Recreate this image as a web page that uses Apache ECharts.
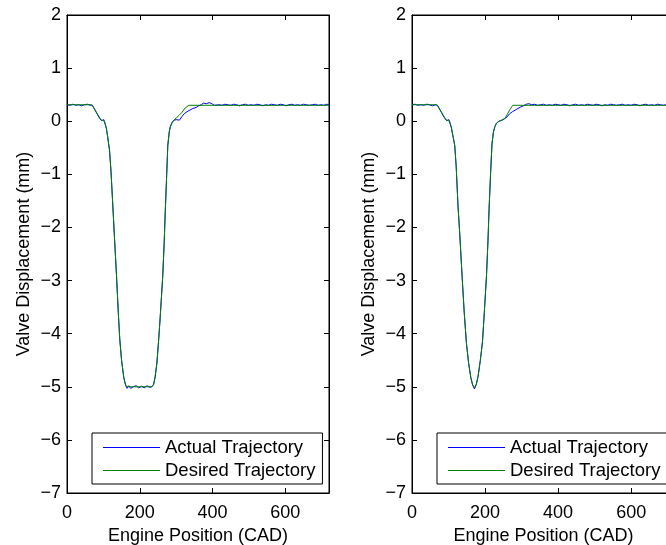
<!DOCTYPE html>
<html>
<head>
<meta charset="utf-8">
<script src="https://cdn.jsdelivr.net/npm/echarts@6/dist/echarts.min.js"></script>
<style>
html,body{margin:0;padding:0;background:#fff;}
#main{width:666px;height:545px;}
</style>
</head>
<body>
<div id="main"></div>
<script>
// ---- Data (x: Engine Position CAD, y: Valve Displacement mm) ----
var seriesNames = ['Actual Trajectory', 'Desired Trajectory'];
var xTicks = [0, 200, 400, 600];
var yTicks = [-7, -6, -5, -4, -3, -2, -1, 0, 1, 2];

// Left panel - desired
var leftDesired = [
  [0,0.31],[68,0.31],[80,0.18],[90,0.06],[95,0.02],[99,0.03],[103,0.0],
  [108,-0.12],[112,-0.3],[117,-0.55],[121,-0.95],[126,-1.6],[131,-2.25],[136,-2.9],
  [141,-3.6],[145,-4.1],[150,-4.5],[156,-4.82],[161,-4.96],[165,-5.0],
  [233,-5.0],[238,-4.95],[242,-4.82],[247,-4.55],[251,-4.2],[256,-3.7],[263,-2.93],
  [267,-2.3],[270,-1.7],[274,-1.0],[277,-0.45],[281,-0.2],[284,-0.1],[289,-0.03],
  [294,0.02],[300,0.06],[308,0.11],[315,0.16],[325,0.25],[335,0.3],[720,0.3]
];
// Left panel - actual
var leftActual = [
  [0,0.31],[8,0.30],[16,0.32],[24,0.30],[32,0.31],[40,0.29],[48,0.31],[56,0.32],[64,0.30],[70,0.30],
  [80,0.17],[90,0.05],[95,0.01],[99,0.04],[101,0.03],[103,0.0],
  [108,-0.13],[112,-0.31],[117,-0.56],[121,-0.95],[126,-1.6],[131,-2.26],[136,-2.9],
  [141,-3.61],[145,-4.1],[150,-4.51],[156,-4.83],[161,-4.97],[165,-5.03],
  [170,-4.98],[175,-5.03],[182,-5.0],[190,-4.98],[197,-5.02],[205,-4.99],[212,-5.02],
  [220,-4.98],[227,-5.01],[233,-5.0],
  [238,-4.96],[242,-4.83],[247,-4.56],[251,-4.2],[256,-3.71],[263,-2.93],
  [267,-2.3],[270,-1.71],[274,-1.0],[277,-0.46],[281,-0.2],[284,-0.1],[289,-0.02],
  [294,0.02],[300,0.03],[309,0.02],[315,0.08],[322,0.14],[330,0.18],[338,0.21],[346,0.24],
  [355,0.26],[362,0.29],[369,0.31],[375,0.34],[383,0.33],[391,0.35],[398,0.33],[405,0.30],
  [410,0.28],[418,0.31],[426,0.30],[434,0.32],[442,0.31],[450,0.30],[458,0.32],[466,0.31],
  [474,0.29],[482,0.31],[490,0.32],[498,0.30],[506,0.31],[514,0.30],[522,0.32],[530,0.31],
  [538,0.29],[546,0.31],[554,0.30],[562,0.32],[570,0.31],[578,0.30],[586,0.32],[594,0.31],
  [602,0.29],[610,0.31],[618,0.32],[626,0.30],[634,0.31],[642,0.30],[650,0.32],[658,0.31],
  [666,0.30],[674,0.31],[682,0.32],[690,0.30],[698,0.31],[706,0.30],[714,0.32],[720,0.31]
];
// Right panel - desired
var rightDesired = [
  [0,0.31],[68,0.31],[80,0.18],[90,0.06],[95,0.02],[99,0.03],[103,0.0],
  [108,-0.12],[112,-0.27],[117,-0.45],[121,-0.85],[126,-1.6],[131,-2.15],[137,-2.9],
  [143,-3.6],[149,-4.18],[155,-4.55],[161,-4.82],[166,-4.96],[171,-5.02],[176,-4.95],
  [181,-4.8],[187,-4.5],[193,-4.15],[198,-3.6],[204,-2.9],[208,-2.25],[211,-1.65],
  [215,-1.0],[219,-0.42],[223,-0.2],[227,-0.1],[231,-0.04],[238,0.0],
  [246,0.02],[254,0.05],[260,0.12],[268,0.22],[276,0.3],[720,0.3]
];
// Right panel - actual
var rightActual = [
  [0,0.31],[8,0.32],[16,0.30],[24,0.31],[32,0.30],[40,0.32],[48,0.31],[56,0.29],[64,0.31],[70,0.30],
  [80,0.17],[90,0.05],[95,0.01],[99,0.04],[101,0.03],[103,0.0],
  [108,-0.13],[112,-0.28],[117,-0.46],[121,-0.86],[126,-1.6],[131,-2.16],[137,-2.9],
  [143,-3.61],[149,-4.18],[155,-4.56],[161,-4.83],[166,-4.97],[171,-5.04],[176,-4.96],
  [181,-4.8],[187,-4.51],[193,-4.15],[198,-3.6],[204,-2.9],[208,-2.25],[211,-1.66],
  [215,-1.0],[219,-0.43],[223,-0.2],[227,-0.1],[231,-0.04],[238,0.0],
  [246,0.02],[254,0.05],[260,0.08],[267,0.14],[275,0.18],[283,0.21],[290,0.24],[298,0.27],
  [305,0.29],[313,0.32],[320,0.33],[328,0.31],[336,0.32],[344,0.30],[352,0.31],[360,0.32],
  [368,0.30],[376,0.31],[384,0.30],[392,0.32],[400,0.31],[408,0.30],[416,0.32],[424,0.31],
  [432,0.29],[440,0.31],[448,0.32],[456,0.30],[464,0.31],[472,0.30],[480,0.32],[488,0.31],
  [496,0.30],[504,0.32],[512,0.31],[520,0.29],[528,0.31],[536,0.30],[544,0.32],[552,0.31],
  [560,0.30],[568,0.31],[576,0.32],[584,0.30],[592,0.31],[600,0.30],[608,0.32],[616,0.31],
  [624,0.29],[632,0.31],[640,0.32],[648,0.30],[656,0.31],[664,0.30],[672,0.32],[680,0.31],
  [688,0.30],[696,0.31],[704,0.32],[712,0.30],[720,0.31]
];

// ---- Chart ----
var FONT = "'Liberation Sans', Arial, Helvetica, sans-serif";
var FS = 18;
function fmtY(v){ return v < 0 ? '\u2212' + Math.abs(v) : String(v); }

function xAx(gi, pos){
  var main = pos === 'bottom';
  return {
    type: 'value', gridIndex: gi, position: pos, min: xTicks[0], max: 720, interval: xTicks[1]-xTicks[0],
    name: main ? 'Engine Position (CAD)' : '', nameLocation: 'middle', nameGap: 31,
    nameTextStyle: {fontFamily: FONT, fontSize: FS, color: '#000'},
    axisLine: {show: true, onZero: false, lineStyle: {color: '#000', width: 1}},
    axisTick: {show: true, inside: true, length: 5, lineStyle: {color: '#000'}},
    axisLabel: {show: main, showMaxLabel: false, margin: 11, fontFamily: FONT, fontSize: FS, color: '#000'},
    splitLine: {show: false}
  };
}
function yAx(gi, pos){
  var main = pos === 'left';
  return {
    type: 'value', gridIndex: gi, position: pos, min: yTicks[0], max: yTicks[yTicks.length-1], interval: 1,
    name: main ? 'Valve Displacement (mm)' : '', nameLocation: 'middle', nameGap: 34, nameRotate: 90,
    nameTextStyle: {fontFamily: FONT, fontSize: FS, color: '#000'},
    axisLine: {show: true, onZero: false, lineStyle: {color: '#000', width: 1}},
    axisTick: {show: true, inside: true, length: 5, lineStyle: {color: '#000'}},
    axisLabel: {show: main, margin: 6, fontFamily: FONT, fontSize: FS, color: '#000', formatter: fmtY},
    splitLine: {show: false}
  };
}
function mkLegend(left){
  return {
    orient: 'vertical', left: left, top: 433,
    data: seriesNames,
    icon: 'rect',
    itemWidth: 57, itemHeight: 1, itemGap: 4,
    padding: [5, 7, 4, 11],
    backgroundColor: '#fff', borderColor: '#000', borderWidth: 1, borderRadius: 0,
    textStyle: {fontFamily: FONT, fontSize: 18.5, color: '#000', lineHeight: 19},
    selectedMode: false
  };
}
function line(name, data, color, xi, yi){
  return {
    type: 'line', name: name, data: data, xAxisIndex: xi, yAxisIndex: yi,
    symbol: 'none', showSymbol: false, smooth: false, animation: false,
    lineStyle: {color: color, width: 1}, itemStyle: {color: color}
  };
}

var chart = echarts.init(document.getElementById('main'), null, {renderer: 'canvas'});
chart.setOption({
  backgroundColor: '#fff',
  animation: false,
  grid: [
    {left: 67, top: 15, width: 262, height: 478, show: true, borderColor: '#000', borderWidth: 1, containLabel: false, outerBoundsMode: 'none'},
    {left: 412, top: 15, width: 263, height: 478, show: true, borderColor: '#000', borderWidth: 1, containLabel: false, outerBoundsMode: 'none'}
  ],
  xAxis: [xAx(0,'bottom'), xAx(0,'top'), xAx(1,'bottom'), xAx(1,'top')],
  yAxis: [yAx(0,'left'), yAx(0,'right'), yAx(1,'left'), yAx(1,'right')],
  legend: [mkLegend(92), mkLegend(437)],
  series: [
    line(seriesNames[0], leftActual, '#0000ff', 0, 0),
    line(seriesNames[1], leftDesired, '#008000', 0, 0),
    line(seriesNames[0], rightActual, '#0000ff', 2, 2),
    line(seriesNames[1], rightDesired, '#008000', 2, 2)
  ]
});
</script>
</body>
</html>
